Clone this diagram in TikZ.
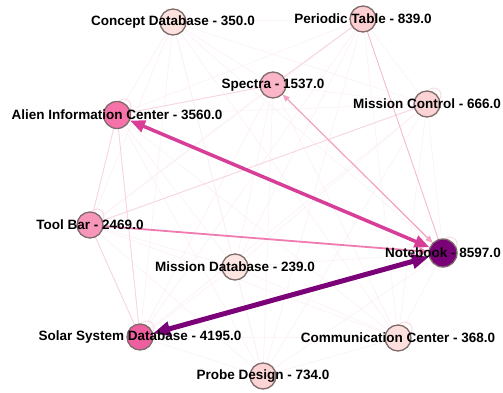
\documentclass[tikz,border=0pt]{standalone}
\usepackage{fontspec}
\setmainfont{Liberation Sans}
\usetikzlibrary{arrows.meta,backgrounds}
\definecolor{vborder}{HTML}{7F6B6B}
\definecolor{cnb}{HTML}{7A0177}
\definecolor{csolar}{HTML}{EE5F9F}
\definecolor{calien}{HTML}{F672A8}
\definecolor{ctool}{HTML}{F896BA}
\definecolor{cspec}{HTML}{FAB6C8}
\definecolor{cper}{HTML}{FCCFD2}
\definecolor{cmc}{HTML}{FCD3D4}
\definecolor{cprobe}{HTML}{FCD4D3}
\definecolor{cconc}{HTML}{FDE1DE}
\definecolor{ccomm}{HTML}{FDE0DD}
\definecolor{cmdb}{HTML}{FDE6E2}
\definecolor{efaint}{HTML}{FCEFF3}
\definecolor{elight}{HTML}{F9D3E0}
\definecolor{eper}{HTML}{F4B8CE}
\definecolor{emed}{HTML}{F4A3C3}
\definecolor{etool}{HTML}{EF7BB0}
\definecolor{ealien}{HTML}{D63E98}
\definecolor{eloop}{HTML}{F9D6E0}
\begin{document}
\begin{tikzpicture}[x=1pt,y=-1pt,
  vtx/.style={circle, draw=vborder, line width=1.3pt, minimum size=26pt, inner sep=0pt},
  lbl/.style={font=\bfseries\fontsize{13.5}{14}\selectfont, inner sep=0pt, text=black},
  faint/.style={draw=efaint, line width=0.5pt},
  lightedge/.style={draw=elight, line width=0.8pt},
  loopc/.style={draw=eloop, line width=0.8pt},
]
\useasboundingbox (0,0) rectangle (503,392);
% nodes
\node[vtx, fill=cconc] (concept) at (173,22) {};
\node[vtx, fill=cper] (periodic) at (363,19) {};
\node[vtx, fill=cspec] (spectra) at (273,85) {};
\node[vtx, fill=cmc] (mctrl) at (427,104) {};
\node[vtx, fill=calien, minimum size=27pt] (alien) at (117,115) {};
\node[vtx, fill=ctool] (tool) at (90,225) {};
\node[vtx, fill=cmdb] (mdb) at (235,267) {};
\node[vtx, fill=csolar] (solar) at (140,337) {};
\node[vtx, fill=cnb, minimum size=28pt] (nb) at (443,253) {};
\node[vtx, fill=ccomm] (comm) at (398,338) {};
\node[vtx, fill=cprobe] (probe) at (263,376) {};
% labels
\node[lbl] (concept-l) at (concept) {Concept Database - 350.0};
\node[lbl] (periodic-l) at (periodic) {Periodic Table - 839.0};
\node[lbl] (spectra-l) at (spectra) {Spectra - 1537.0};
\node[lbl] (mctrl-l) at (mctrl) {Mission Control - 666.0};
\node[lbl] (alien-l) at (alien) {Alien Information Center - 3560.0};
\node[lbl] (tool-l) at (tool) {Tool Bar - 2469.0};
\node[lbl] (mdb-l) at (mdb) {Mission Database - 239.0};
\node[lbl] (solar-l) at (solar) {Solar System Database - 4195.0};
\node[lbl] (nb-l) at (nb) {Notebook - 8597.0};
\node[lbl] (comm-l) at (comm) {Communication Center - 368.0};
\node[lbl] (probe-l) at (probe) {Probe Design - 734.0};
\begin{pgfonlayer}{background}
\fill[white] (0,0) rectangle (503,392);
% faint complete graph
\foreach \a [count=\i] in {concept,periodic,spectra,mctrl,alien,tool,mdb,solar,nb,comm,probe}{
  \foreach \b [count=\j] in {concept,periodic,spectra,mctrl,alien,tool,mdb,solar,nb,comm,probe}{
    \ifnum\i<\j \draw[faint] (\a) -- (\b); \fi
  }
}
% self loops
\foreach \n in {alien,tool,mctrl,nb,solar,comm}{
  \draw[loopc] ([shift={(7,-9)}]\n.center) circle (7);
}
% lighter visible edges
\draw[lightedge] (alien) -- (tool);
\draw[lightedge] (tool) -- (solar);
\draw[lightedge] (alien) -- (solar);
\draw[lightedge] (periodic) -- (spectra);
\draw[lightedge] (alien) -- (spectra);
\draw[lightedge] (mctrl) -- (tool);
\draw[lightedge, draw=eper] (periodic) -- (nb);
\draw[draw=emed, fill=emed, line width=1.2pt, {Triangle[length=7pt,width=6pt]}-{Triangle[length=7pt,width=6pt]}] (spectra) -- (nb);
\draw[draw=etool, fill=etool, line width=1.8pt, -{Triangle[length=9pt,width=7pt]}] (tool) -- (nb);
\draw[draw=ealien, fill=ealien, line width=3.5pt, {Triangle[length=15pt,width=12pt]}-{Triangle[length=15pt,width=12pt]}] (alien) -- (nb);
\draw[draw=cnb, fill=cnb, line width=5pt, {Triangle[length=17pt,width=14pt]}-{Triangle[length=17pt,width=14pt]}] (solar) -- (nb);
\end{pgfonlayer}
\end{tikzpicture}
\end{document}
